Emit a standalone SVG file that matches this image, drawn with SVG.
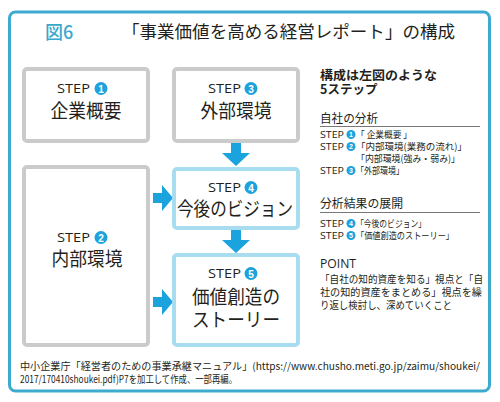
<svg xmlns="http://www.w3.org/2000/svg" width="500" height="402" viewBox="0 0 500 402">
<style>
.jp{font-family:"Noto Sans CJK JP","Noto Sans",sans-serif;fill:#231f20}
.lat{font-family:"Open Sans","Liberation Sans",sans-serif;fill:#231f20}
.gbox{fill:#fff;stroke:#cbcbcb;stroke-width:4}
.bbox{fill:#fff;stroke:#a8dcef;stroke-width:4}
.num{fill:#1ea2dc}
.numt{font-family:"Liberation Sans",sans-serif;font-weight:bold;fill:#fff;text-anchor:middle}
.step{font-size:12px}
.lbl{font-size:19px;text-anchor:middle}
.side{font-size:9.5px}
.arrow{fill:#1ba3de}
</style>
<rect width="500" height="402" fill="#fff"/>
<rect x="9.5" y="12" width="480" height="379" rx="6" fill="none" stroke="#3eaad0" stroke-width="3"/>
<g id="title">
<text x="45" y="39" font-family="Noto Sans CJK JP,sans-serif" font-size="18" font-weight="500" fill="#3aa7cc">図6</text>
<text x="122" y="38" class="jp" font-size="17" textLength="333" lengthAdjust="spacingAndGlyphs">「事業価値を高める経営レポート」の構成</text>
</g>
<g id="connectors">
<polygon class="arrow" points="231,143 241,143 241,153 250,153 236,166 222,153 231,153"/>
<polygon class="arrow" points="231,230 241,230 241,240 250,240 236,253 222,240 231,240"/>
<polygon class="arrow" points="153,193 162,193 162,185 173,198 162,211 162,203 153,203"/>
<polygon class="arrow" points="153,297 162,297 162,289 173,302 162,315 162,307 153,307"/>
</g>
<g id="step1">
<rect class="gbox" x="24" y="69" width="124" height="72" rx="3"/>
<text class="lat step" x="57" y="93" textLength="33" lengthAdjust="spacingAndGlyphs">STEP</text>
<circle class="num" cx="101" cy="88.5" r="6.5"/><text class="numt" x="101" y="92.5" font-size="10">1</text>
<text class="jp lbl" x="86" y="118" textLength="71" lengthAdjust="spacingAndGlyphs">企業概要</text>
</g>
<g id="step3">
<rect class="gbox" x="174" y="69" width="124" height="72" rx="3"/>
<text class="lat step" x="208" y="93" textLength="33" lengthAdjust="spacingAndGlyphs">STEP</text>
<circle class="num" cx="251" cy="88.5" r="6.5"/><text class="numt" x="251" y="92.5" font-size="10">3</text>
<text class="jp lbl" x="236" y="118" textLength="71" lengthAdjust="spacingAndGlyphs">外部環境</text>
</g>
<g id="step2">
<rect class="gbox" x="24" y="167" width="124" height="178" rx="3"/>
<text class="lat step" x="57" y="242" textLength="33" lengthAdjust="spacingAndGlyphs">STEP</text>
<circle class="num" cx="101" cy="237.5" r="6.5"/><text class="numt" x="101" y="241.5" font-size="10">2</text>
<text class="jp lbl" x="87" y="266" textLength="71" lengthAdjust="spacingAndGlyphs">内部環境</text>
</g>
<g id="step4">
<rect class="bbox" x="174" y="169" width="124" height="59" rx="3"/>
<text class="lat step" x="208" y="192" textLength="33" lengthAdjust="spacingAndGlyphs">STEP</text>
<circle class="num" cx="251" cy="187.5" r="6.5"/><text class="numt" x="251" y="191.5" font-size="10">4</text>
<text class="jp lbl" x="235" y="216" textLength="116" lengthAdjust="spacingAndGlyphs">今後のビジョン</text>
</g>
<g id="step5">
<rect class="bbox" x="174" y="255" width="124" height="90" rx="3"/>
<text class="lat step" x="208" y="278" textLength="33" lengthAdjust="spacingAndGlyphs">STEP</text>
<circle class="num" cx="251" cy="273.5" r="6.5"/><text class="numt" x="251" y="277.5" font-size="10">5</text>
<text class="jp lbl" x="236" y="304" textLength="88" lengthAdjust="spacingAndGlyphs">価値創造の</text>
<text class="jp lbl" x="236" y="327" textLength="88" lengthAdjust="spacingAndGlyphs">ストーリー</text>
</g>
<g id="sidepanel">
<text class="jp" x="320" y="80" font-size="12.5" font-weight="bold" textLength="117" lengthAdjust="spacingAndGlyphs">構成は左図のような</text>
<text class="jp" x="320" y="94" font-size="12.5" font-weight="bold">5ステップ</text>
<text class="jp" x="320" y="123" font-size="12" textLength="58" lengthAdjust="spacingAndGlyphs">自社の分析</text>
<line x1="320" y1="126.5" x2="480" y2="126.5" stroke="#777" stroke-width="1"/>
<text class="lat side" x="320" y="138" textLength="24" lengthAdjust="spacingAndGlyphs">STEP</text>
<circle class="num" cx="351" cy="134.5" r="4.5"/><text class="numt" x="351" y="137.3" font-size="7">1</text>
<text class="jp side" x="356" y="138" textLength="56" lengthAdjust="spacingAndGlyphs">「 企業概要 」</text>
<text class="lat side" x="320" y="150" textLength="24" lengthAdjust="spacingAndGlyphs">STEP</text>
<circle class="num" cx="351" cy="146.5" r="4.5"/><text class="numt" x="351" y="149.3" font-size="7">2</text>
<text class="jp side" x="356" y="150" textLength="111" lengthAdjust="spacingAndGlyphs">「内部環境(業務の流れ)」</text>
<text class="jp side" x="356" y="162" textLength="104" lengthAdjust="spacingAndGlyphs">「内部環境(強み・弱み)」</text>
<text class="lat side" x="320" y="174" textLength="24" lengthAdjust="spacingAndGlyphs">STEP</text>
<circle class="num" cx="351" cy="170.5" r="4.5"/><text class="numt" x="351" y="173.3" font-size="7">3</text>
<text class="jp side" x="356" y="174" textLength="48" lengthAdjust="spacingAndGlyphs">「外部環境」</text>
<text class="jp" x="320" y="208" font-size="12" textLength="83" lengthAdjust="spacingAndGlyphs">分析結果の展開</text>
<line x1="320" y1="212.5" x2="480" y2="212.5" stroke="#777" stroke-width="1"/>
<text class="lat side" x="320" y="227" textLength="24" lengthAdjust="spacingAndGlyphs">STEP</text>
<circle class="num" cx="351" cy="223.5" r="4.5"/><text class="numt" x="351" y="226.3" font-size="7">4</text>
<text class="jp side" x="356" y="227" textLength="70" lengthAdjust="spacingAndGlyphs">「今後のビジョン」</text>
<text class="lat side" x="320" y="239" textLength="24" lengthAdjust="spacingAndGlyphs">STEP</text>
<circle class="num" cx="351" cy="235.5" r="4.5"/><text class="numt" x="351" y="238.3" font-size="7">5</text>
<text class="jp side" x="356" y="239" textLength="98" lengthAdjust="spacingAndGlyphs">「価値創造のストーリー」</text>
<text class="lat" x="320" y="268" font-size="13.5" textLength="36" lengthAdjust="spacingAndGlyphs">POINT</text>
<text class="jp" x="320" y="283" font-size="10.5" textLength="163" lengthAdjust="spacingAndGlyphs">「自社の知的資産を知る」視点と「自</text>
<text class="jp" x="320" y="296" font-size="10.5" textLength="162" lengthAdjust="spacingAndGlyphs">社の知的資産をまとめる」視点を繰</text>
<text class="jp" x="320" y="309" font-size="10.5" textLength="132" lengthAdjust="spacingAndGlyphs">り返し検討し、深めていくこと</text>
</g>
<g id="footer">
<text class="jp" x="20" y="370" font-size="10" fill="#333" textLength="460" lengthAdjust="spacingAndGlyphs">中小企業庁「経営者のための事業承継マニュアル」(https://www.chusho.meti.go.jp/zaimu/shoukei/</text>
<text class="jp" x="20" y="383" font-size="10" fill="#333" textLength="217" lengthAdjust="spacingAndGlyphs">2017/170410shoukei.pdf)P7を加工して作成、一部再編。</text>
</g>
</svg>
